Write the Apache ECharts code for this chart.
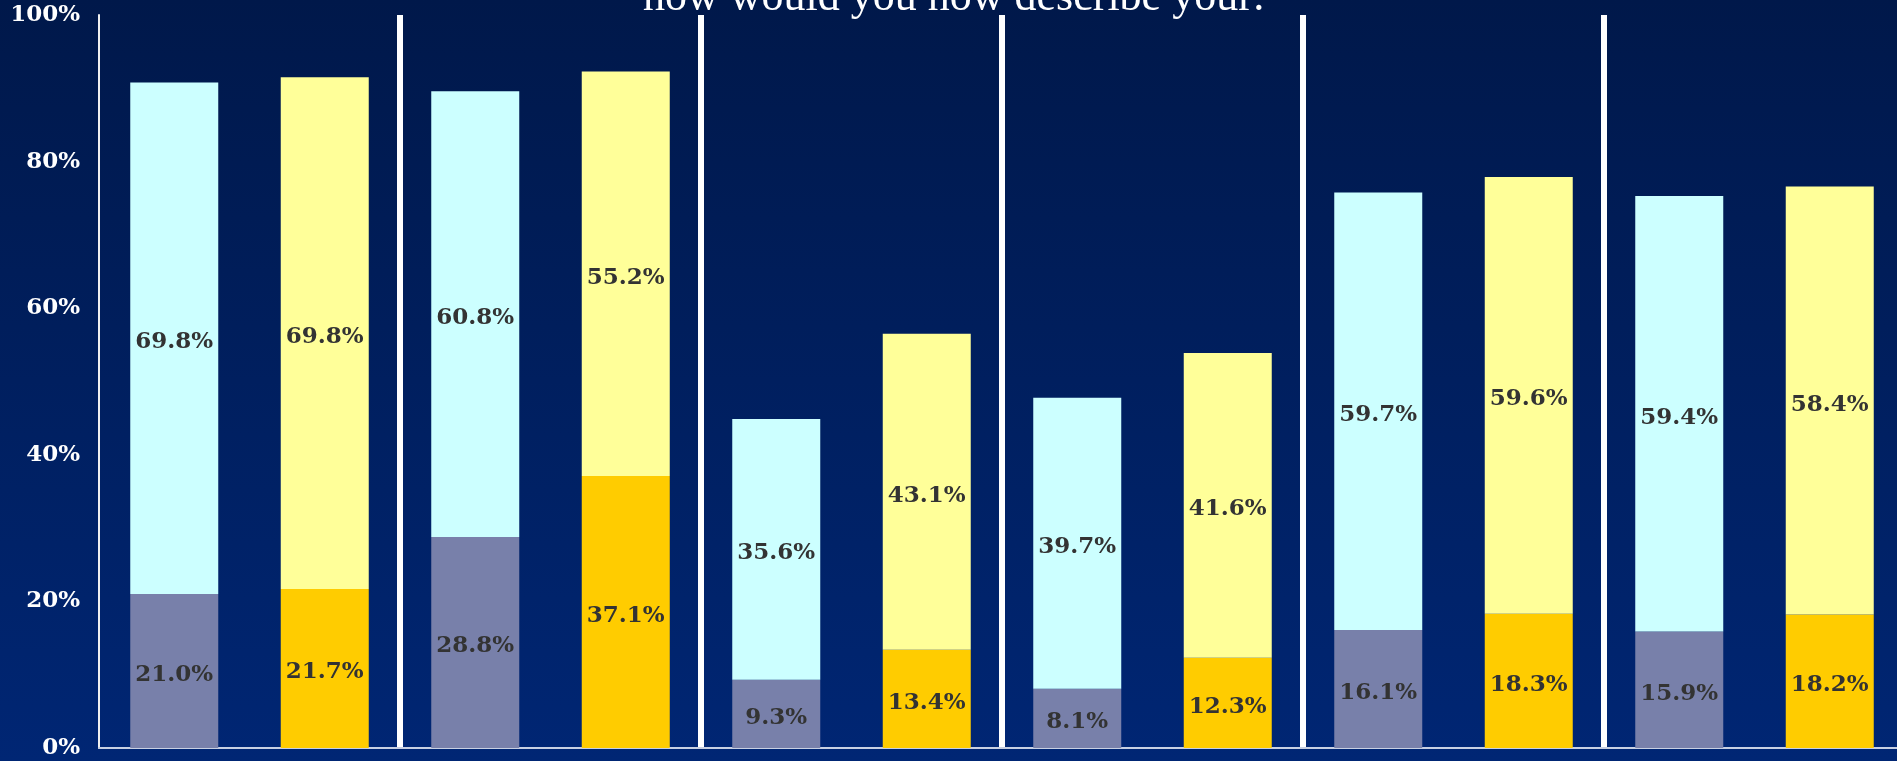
<!DOCTYPE html>
<html>
<head>
<meta charset="utf-8">
<script src="https://cdn.jsdelivr.net/npm/echarts@6/dist/echarts.min.js"></script>
<style>
  html, body { margin: 0; padding: 0; background: #001c55; }
  #chart { width: 1897px; height: 761px; }
</style>
</head>
<body>
<div id="chart"></div>
<script>
// ---- data ----
const titleText = 'how would you now describe your:';
const groupNames = ['Group 1', 'Group 2', 'Group 3', 'Group 4', 'Group 5', 'Group 6'];
const firstBase = [21.0, 28.8, 9.3, 8.1, 16.1, 15.9];
const firstTop = [69.8, 60.8, 35.6, 39.7, 59.7, 59.4];
const secondBase = [21.7, 37.1, 13.4, 12.3, 18.3, 18.2];
const secondTop = [69.8, 55.2, 43.1, 41.6, 59.6, 58.4];
const yTicks = [0, 20, 40, 60, 80, 100];

// ---- build interleaved categories ----
const categories = [];
const fb = [], ft = [], sb = [], st = [];
groupNames.forEach(function (g, i) {
  categories.push(g + ' A');
  fb.push(firstBase[i]); ft.push(firstTop[i]); sb.push(null); st.push(null);
  categories.push(g + ' B');
  fb.push(null); ft.push(null); sb.push(secondBase[i]); st.push(secondTop[i]);
});

const labelStyle = {
  show: true,
  position: 'inside',
  offset: [0, 4],
  color: '#333333',
  fontFamily: 'DejaVu Serif',
  fontWeight: 'bold',
  fontSize: 23,
  formatter: function (p) { return p.value == null ? '' : p.value.toFixed(1) + '%'; }
};

function barSeries(name, data, color) {
  return {
    name: name,
    type: 'bar',
    stack: 'all',
    xAxisIndex: 0,
    barWidth: 88,
    data: data,
    itemStyle: { color: color },
    label: labelStyle,
    emphasis: { disabled: true }
  };
}

const chart = echarts.init(document.getElementById('chart'), null, { renderer: 'canvas' });
chart.setOption({
  animation: false,
  backgroundColor: {
    type: 'linear', x: 0, y: 0, x2: 0, y2: 1,
    colorStops: [{ offset: 0, color: '#00184a' }, { offset: 1, color: '#002674' }]
  },
  title: {
    text: titleText,
    left: 638,
    top: -29,
    textStyle: { color: '#ffffff', fontFamily: 'Liberation Serif', fontWeight: 'normal', fontSize: 44 }
  },
  grid: { left: 99, top: 15, width: 1806, height: 733, outerBoundsMode: 'none', containLabel: false },
  xAxis: [
    {
      type: 'category',
      data: categories,
      boundaryGap: true,
      axisLine: { show: true, lineStyle: { color: '#c8d0e2', width: 2 } },
      axisTick: { show: false },
      axisLabel: { show: false },
      splitLine: { show: false }
    },
    {
      type: 'value',
      position: 'top',
      min: 0,
      max: categories.length,
      interval: 2,
      axisLine: { show: false },
      axisTick: { show: false },
      axisLabel: { show: false },
      splitLine: {
        show: true,
        lineStyle: { color: ['rgba(0,0,0,0)', '#ffffff', '#ffffff', '#ffffff', '#ffffff', '#ffffff', 'rgba(0,0,0,0)'], width: 6 }
      }
    }
  ],
  yAxis: {
    type: 'value',
    min: yTicks[0],
    max: yTicks[yTicks.length - 1],
    interval: yTicks[1] - yTicks[0],
    axisLine: { show: true, lineStyle: { color: '#f0f0f0', width: 2 } },
    axisTick: { show: false },
    splitLine: { show: false },
    axisLabel: {
      color: '#ffffff',
      fontFamily: 'DejaVu Serif',
      fontWeight: 'bold',
      fontSize: 23,
      margin: 19,
      padding: [6, 0, 0, 0],
      formatter: '{value}%'
    }
  },
  series: [
    barSeries('First base', fb, '#7880aa'),
    barSeries('First top', ft, '#ccffff'),
    barSeries('Second base', sb, '#ffcc00'),
    barSeries('Second top', st, '#ffff99')
  ]
});
</script>
</body>
</html>
